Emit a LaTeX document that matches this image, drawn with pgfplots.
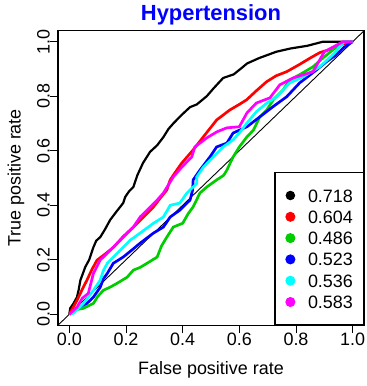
\documentclass[border=0pt]{standalone}
\usepackage{pgfplots}
\pgfplotsset{compat=1.18}
\usepackage{fontspec}
\setmainfont{Liberation Sans}
\definecolor{rgreen}{RGB}{0,205,0}
\definecolor{rblue}{RGB}{0,0,255}
\definecolor{rred}{RGB}{255,0,0}
\definecolor{rcyan}{RGB}{0,255,255}
\definecolor{rmag}{RGB}{255,0,255}
\begin{document}
\begin{tikzpicture}
\path[use as bounding box] (0,0) rectangle (367bp,386bp);
\begin{axis}[
  at={(58bp,60.8bp)}, anchor=south west,
  scale only axis, width=306bp, height=294.4bp,
  xmin=-0.04, xmax=1.04, ymin=-0.04, ymax=1.04,
  axis line style={line width=1.2pt},
  font=\fontsize{18}{21}\selectfont,
  xtick={0,0.2,0.4,0.6,0.8,1}, ytick={0,0.2,0.4,0.6,0.8,1},
  xticklabels={0.0,0.2,0.4,0.6,0.8,1.0},
  yticklabels={0.0,0.2,0.4,0.6,0.8,1.0},
  tick pos=left, tick align=outside, major tick length=8bp,
  tick style={line width=1pt, black},
  xticklabel style={anchor=north, inner sep=0pt},
  yticklabel style={rotate=90, anchor=south, inner sep=0pt},
  every axis title shift=0pt,
  title={Hypertension},
  title style={at={(axis description cs:0.5,1)}, anchor=base, yshift=10.1bp, font=\bfseries\fontsize{22}{26}\selectfont, color=rblue},
  xlabel={False positive rate},
  xlabel style={at={(axis description cs:0.5,0)}, anchor=base, yshift=-48.8bp},
  ylabel={True positive rate},
  ylabel style={at={(axis description cs:-0.1219,0.5)}, anchor=base},
  clip=true,
  legend image code/.code={\fill[#1] (0bp,0bp) circle (3.6bp);},
  legend style={at={(axis cs:1.04,-0.04)}, anchor=south east, draw=black, line width=1.2pt,
    inner xsep=10.5bp, inner ysep=16.1bp, row sep=8.3bp, column sep=12.7bp,
    nodes={inner sep=0pt, text height=13bp, text depth=0pt, anchor=west},
    font=\fontsize{18}{21}\selectfont},
  legend cell align=left,
]
\addplot[black, line width=0.9pt, forget plot] coordinates {(-0.04,-0.04) (1.04,1.04)};
% black 0.718
\addplot[black, line width=2.2pt] coordinates {
(0,0) (0.003,0.022) (0.015,0.04) (0.027,0.063) (0.033,0.09) (0.039,0.125) (0.048,0.15) (0.056,0.173) (0.07,0.2) (0.085,0.246) (0.095,0.27) (0.109,0.283) (0.125,0.31) (0.144,0.346) (0.165,0.375) (0.19,0.408) (0.197,0.43) (0.21,0.45) (0.226,0.467) (0.24,0.51) (0.26,0.555) (0.285,0.596) (0.31,0.62) (0.332,0.65) (0.35,0.68) (0.367,0.70) (0.395,0.73) (0.426,0.76) (0.45,0.77) (0.485,0.80) (0.51,0.83) (0.543,0.867) (0.58,0.88) (0.61,0.905) (0.627,0.92) (0.67,0.94) (0.73,0.963) (0.78,0.975) (0.84,0.985) (0.895,1.0) (1,1)};
% red 0.604
\addplot[rred, line width=2.7pt] coordinates {
(0,0) (0.027,0.051) (0.045,0.09) (0.062,0.125) (0.08,0.165) (0.098,0.199) (0.125,0.22) (0.156,0.246) (0.19,0.285) (0.226,0.32) (0.26,0.355) (0.297,0.394) (0.32,0.425) (0.344,0.456) (0.356,0.493) (0.38,0.53) (0.397,0.555) (0.437,0.603) (0.473,0.651) (0.52,0.713) (0.567,0.75) (0.6,0.77) (0.626,0.787) (0.66,0.82) (0.696,0.853) (0.73,0.875) (0.767,0.89) (0.81,0.915) (0.85,0.94) (0.884,0.96) (0.93,0.975) (0.96,0.99) (1,1)};
% green 0.486
\addplot[rgreen, line width=2.7pt] coordinates {
(0,0) (0.015,0.015) (0.05,0.022) (0.085,0.04) (0.1,0.065) (0.12,0.088) (0.145,0.1) (0.169,0.114) (0.204,0.136) (0.226,0.162) (0.25,0.172) (0.274,0.187) (0.31,0.21) (0.325,0.25) (0.344,0.283) (0.367,0.32) (0.40,0.334) (0.42,0.37) (0.437,0.394) (0.461,0.445) (0.485,0.467) (0.52,0.493) (0.545,0.51) (0.556,0.529) (0.578,0.577) (0.60,0.614) (0.627,0.651) (0.65,0.676) (0.672,0.724) (0.697,0.75) (0.72,0.787) (0.755,0.824) (0.778,0.86) (0.813,0.879) (0.86,0.908) (0.895,0.94) (0.93,0.97) (0.97,1.0) (1,1)};
% blue 0.523
\addplot[rblue, line width=2.7pt] coordinates {
(0,0) (0.027,0.022) (0.062,0.04) (0.085,0.063) (0.109,0.099) (0.12,0.13) (0.134,0.15) (0.155,0.187) (0.19,0.21) (0.22,0.235) (0.25,0.261) (0.297,0.298) (0.332,0.32) (0.356,0.357) (0.39,0.382) (0.426,0.419) (0.435,0.455) (0.437,0.493) (0.461,0.529) (0.496,0.577) (0.52,0.614) (0.556,0.628) (0.578,0.665) (0.627,0.688) (0.672,0.724) (0.718,0.761) (0.767,0.798) (0.813,0.849) (0.873,0.897) (0.908,0.927) (0.94,0.95) (0.97,0.98) (1,1)};
% cyan 0.536
\addplot[rcyan, line width=2.7pt] coordinates {
(0,0) (0.015,0.004) (0.05,0.04) (0.085,0.088) (0.109,0.125) (0.12,0.16) (0.134,0.187) (0.169,0.224) (0.215,0.272) (0.25,0.298) (0.297,0.334) (0.332,0.357) (0.345,0.38) (0.356,0.40) (0.39,0.408) (0.415,0.445) (0.45,0.48) (0.45,0.504) (0.473,0.54) (0.508,0.577) (0.543,0.614) (0.578,0.64) (0.60,0.665) (0.627,0.702) (0.66,0.743) (0.697,0.775) (0.732,0.798) (0.778,0.849) (0.825,0.871) (0.884,0.908) (0.93,0.952) (0.97,1.0) (1,1)};
% magenta 0.583
\addplot[rmag, line width=2.7pt] coordinates {
(0,0) (0.027,0.026) (0.046,0.059) (0.067,0.077) (0.085,0.15) (0.109,0.199) (0.134,0.224) (0.18,0.272) (0.226,0.32) (0.25,0.357) (0.31,0.419) (0.332,0.445) (0.367,0.504) (0.397,0.54) (0.432,0.577) (0.443,0.614) (0.485,0.647) (0.52,0.669) (0.556,0.684) (0.60,0.688) (0.627,0.739) (0.66,0.775) (0.708,0.794) (0.743,0.842) (0.79,0.867) (0.86,0.89) (0.90,0.963) (0.93,0.98) (0.966,1.0) (1,1)};
\legend{0.718,0.604,0.486,0.523,0.536,0.583}
\end{axis}
\end{tikzpicture}
\end{document}
